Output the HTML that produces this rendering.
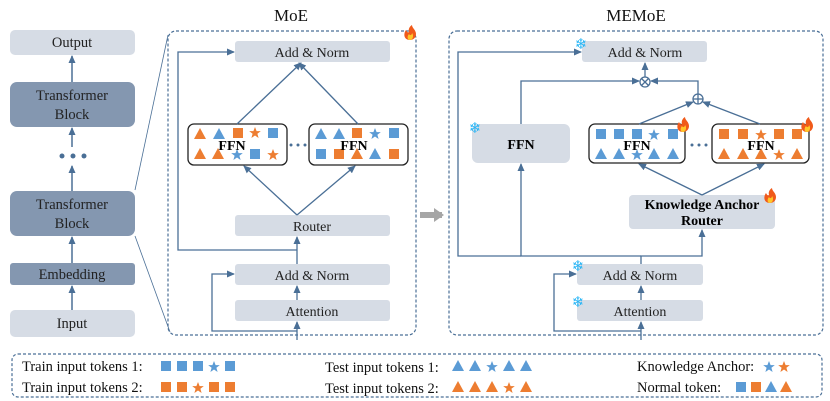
<!DOCTYPE html>
<html><head><meta charset="utf-8"><style>
html,body{margin:0;padding:0;background:#fff;}
svg{display:block;font-family:"Liberation Serif",serif;}
</style></head><body>
<svg width="830" height="401" viewBox="0 0 830 401" xmlns="http://www.w3.org/2000/svg">
<defs>
<marker id="ar" markerWidth="8" markerHeight="8" refX="7" refY="4" orient="auto" markerUnits="userSpaceOnUse"><path d="M0,0.5 L8,4 L0,7.5 Z" fill="#4a6f96"/></marker>
<marker id="ag" markerWidth="14" markerHeight="14" refX="8" refY="7" orient="auto" markerUnits="userSpaceOnUse"><path d="M0,0 L10,7 L0,14 Z" fill="#a6a6a6"/></marker>
<rect id="sb" x="-5" y="-5" width="10" height="10" fill="#5b9bd5"/>
<rect id="so" x="-5" y="-5" width="10" height="10" fill="#ed7d31"/>
<path id="tb" d="M0,-6 L6,5 L-6,5 Z" fill="#5b9bd5"/>
<path id="to" d="M0,-6 L6,5 L-6,5 Z" fill="#ed7d31"/>
<path id="stb" d="M0,-6 L1.6,-1.9 L5.8,-1.9 L2.4,0.8 L3.6,5 L0,2.5 L-3.6,5 L-2.4,0.8 L-5.8,-1.9 L-1.6,-1.9 Z" fill="#5b9bd5"/>
<path id="sto" d="M0,-6 L1.6,-1.9 L5.8,-1.9 L2.4,0.8 L3.6,5 L0,2.5 L-3.6,5 L-2.4,0.8 L-5.8,-1.9 L-1.6,-1.9 Z" fill="#ed7d31"/>
<g id="fire"><path d="M0,7 C-6,7 -7,1 -4,-3 C-3,-1 -2,0 -1,-1 C-2,-4 0,-7 2,-8 C2,-5 6,-3 6,1 C6,5 3,7 0,7 Z" fill="#f05a1a"/><path d="M0,7 C-3,7 -3,3 -1,1 C0,3 2,2 2,0 C4,2 3,7 0,7 Z" fill="#ffc629"/></g>
</defs>

<!-- Left column -->
<g font-size="14.5" text-anchor="middle" fill="#222">
<rect x="10" y="30" width="125" height="25" rx="5" fill="#d6dce5"/><text x="72" y="47">Output</text>
<rect x="10" y="82" width="125" height="45" rx="7" fill="#8497b0"/><text x="72" y="100">Transformer</text><text x="72" y="119">Block</text>
<rect x="10" y="191" width="125" height="45" rx="7" fill="#8497b0"/><text x="72" y="209">Transformer</text><text x="72" y="228">Block</text>
<rect x="10" y="263" width="125" height="22" rx="3" fill="#8497b0"/><text x="72" y="279">Embedding</text>
<rect x="10" y="310" width="125" height="27" rx="5" fill="#d6dce5"/><text x="72" y="328">Input</text>
</g>
<g stroke="#4a6f96" stroke-width="1.5" fill="none" marker-end="url(#ar)">
<line x1="72" y1="82" x2="72" y2="56"/>
<line x1="72" y1="147" x2="72" y2="128"/>
<line x1="72" y1="191" x2="72" y2="166"/>
<line x1="72" y1="263" x2="72" y2="237"/>
<line x1="72" y1="310" x2="72" y2="286"/>
</g>
<circle cx="62" cy="156" r="2.5" fill="#4a6f96"/><circle cx="73" cy="156" r="2.5" fill="#4a6f96"/><circle cx="84" cy="156" r="2.5" fill="#4a6f96"/>
<line x1="135" y1="190" x2="168" y2="35" stroke="#4a6f96" stroke-width="0.8"/>
<line x1="135" y1="236" x2="170" y2="332" stroke="#4a6f96" stroke-width="0.8"/>

<!-- MoE -->
<text x="291" y="21" font-size="17" text-anchor="middle" fill="#111">MoE</text>
<rect x="168" y="31" width="248" height="304" rx="8" fill="none" stroke="#4a6f96" stroke-width="1.2" stroke-dasharray="3,2"/>
<use href="#fire" x="410" y="33"/>
<g font-size="14" text-anchor="middle" fill="#222">
<rect x="235" y="41" width="155" height="21" rx="3" fill="#d6dce5"/><text x="312" y="57">Add &amp; Norm</text>
<rect x="235" y="215" width="155" height="21" rx="3" fill="#d6dce5"/><text x="312" y="231">Router</text>
<rect x="235" y="264" width="155" height="21" rx="3" fill="#d6dce5"/><text x="312" y="280">Add &amp; Norm</text>
<rect x="235" y="300" width="155" height="21" rx="3" fill="#d6dce5"/><text x="312" y="316">Attention</text>
</g>
<rect x="188" y="124" width="99" height="41" rx="6" fill="#fff" stroke="#222" stroke-width="1.3"/>
<rect x="309" y="124" width="99" height="41" rx="6" fill="#fff" stroke="#222" stroke-width="1.3"/>
<use href="#to" x="200" y="134"/><use href="#tb" x="219" y="134"/><use href="#so" x="238" y="133"/><use href="#sto" x="255" y="133"/><use href="#sb" x="273" y="133"/>
<use href="#to" x="200" y="154"/><use href="#to" x="218" y="154"/><use href="#stb" x="237" y="155"/><use href="#sb" x="255" y="154"/><use href="#sto" x="273" y="155"/>
<use href="#tb" x="321" y="134"/><use href="#tb" x="339" y="134"/><use href="#so" x="357" y="133"/><use href="#stb" x="375" y="134"/><use href="#sb" x="394" y="133"/>
<use href="#sb" x="321" y="154"/><use href="#so" x="339" y="154"/><use href="#to" x="357" y="154"/><use href="#tb" x="375" y="154"/><use href="#so" x="394" y="154"/>
<text x="232" y="150" font-size="14" font-weight="bold" text-anchor="middle" fill="#000">FFN</text>
<text x="354" y="150" font-size="14" font-weight="bold" text-anchor="middle" fill="#000">FFN</text>
<circle cx="291" cy="145" r="1.5" fill="#4a6f96"/><circle cx="298" cy="145" r="1.5" fill="#4a6f96"/><circle cx="305" cy="145" r="1.5" fill="#4a6f96"/>
<g stroke="#4a6f96" stroke-width="1.3" fill="none" marker-end="url(#ar)">
<line x1="237" y1="124" x2="301" y2="63"/>
<line x1="358" y1="124" x2="299" y2="63"/>
<line x1="297" y1="215" x2="244" y2="166"/>
<line x1="297" y1="215" x2="355" y2="166"/>
<line x1="297" y1="264" x2="297" y2="237"/>
<line x1="297" y1="300" x2="297" y2="286"/>
<line x1="297" y1="340" x2="297" y2="322"/>
<polyline points="297,250 178,250 178,52 234,52"/>
<polyline points="297,331 212,331 212,274 234,274"/>
</g>

<!-- gray arrow -->
<line x1="420" y1="215" x2="442" y2="215" stroke="#a6a6a6" stroke-width="6" marker-end="url(#ag)"/>

<!-- MEMoE -->
<text x="636" y="21" font-size="17" text-anchor="middle" fill="#111">MEMoE</text>
<rect x="449" y="31" width="374" height="304" rx="8" fill="none" stroke="#4a6f96" stroke-width="1.2" stroke-dasharray="3,2"/>
<g font-size="14" text-anchor="middle" fill="#222">
<rect x="582" y="41" width="125" height="21" rx="3" fill="#d6dce5"/><text x="645" y="57">Add &amp; Norm</text>
<rect x="472" y="124" width="98" height="39" rx="6" fill="#d6dce5"/><text x="521" y="149" font-weight="bold" font-size="14" fill="#000">FFN</text>
<rect x="629" y="195" width="146" height="34" rx="4" fill="#d6dce5"/><text x="702" y="209" font-weight="bold" fill="#000">Knowledge Anchor</text><text x="702" y="225" font-weight="bold" fill="#000">Router</text>
<rect x="577" y="264" width="126" height="21" rx="3" fill="#d6dce5"/><text x="640" y="280">Add &amp; Norm</text>
<rect x="577" y="300" width="126" height="21" rx="3" fill="#d6dce5"/><text x="640" y="316">Attention</text>
</g>
<rect x="589" y="124" width="96" height="39" rx="6" fill="#fff" stroke="#222" stroke-width="1.3"/>
<rect x="712" y="124" width="97" height="39" rx="6" fill="#fff" stroke="#222" stroke-width="1.3"/>
<use href="#sb" x="601" y="134"/><use href="#sb" x="619" y="134"/><use href="#sb" x="637" y="134"/><use href="#stb" x="654" y="135"/><use href="#sb" x="673" y="134"/>
<use href="#tb" x="601" y="154"/><use href="#tb" x="619" y="154"/><use href="#stb" x="637" y="155"/><use href="#tb" x="654" y="154"/><use href="#tb" x="673" y="154"/>
<use href="#so" x="724" y="134"/><use href="#so" x="743" y="134"/><use href="#sto" x="761" y="135"/><use href="#so" x="779" y="134"/><use href="#so" x="797" y="134"/>
<use href="#to" x="724" y="154"/><use href="#to" x="743" y="154"/><use href="#to" x="761" y="154"/><use href="#sto" x="779" y="155"/><use href="#to" x="797" y="154"/>
<text x="637" y="150" font-size="14" font-weight="bold" text-anchor="middle" fill="#000">FFN</text>
<text x="761" y="150" font-size="14" font-weight="bold" text-anchor="middle" fill="#000">FFN</text>
<circle cx="692" cy="145" r="1.5" fill="#4a6f96"/><circle cx="699" cy="145" r="1.5" fill="#4a6f96"/><circle cx="706" cy="145" r="1.5" fill="#4a6f96"/>
<use href="#fire" x="683" y="125"/><use href="#fire" x="807" y="125"/><use href="#fire" x="770" y="196"/>
<g font-size="15" fill="#29b6f6" font-family="'DejaVu Sans',sans-serif" text-anchor="middle">
<text x="581" y="49">❄</text><text x="475" y="133">❄</text><text x="578" y="271">❄</text><text x="578" y="307">❄</text>
</g>
<g stroke="#4a6f96" stroke-width="1.3" fill="none">
<circle cx="645" cy="82" r="5"/><line x1="641.5" y1="78.5" x2="648.5" y2="85.5"/><line x1="648.5" y1="78.5" x2="641.5" y2="85.5"/>
<circle cx="698" cy="99" r="5"/><line x1="693" y1="99" x2="703" y2="99"/><line x1="698" y1="94" x2="698" y2="104"/>
</g>
<g stroke="#4a6f96" stroke-width="1.3" fill="none" marker-end="url(#ar)">
<line x1="645" y1="77" x2="645" y2="63"/>
<polyline points="521,124 521,81 639,81"/>
<polyline points="698,94 698,81 651,81"/>
<line x1="639" y1="124" x2="693" y2="102"/>
<line x1="760" y1="124" x2="703" y2="102"/>
<line x1="702" y1="195" x2="639" y2="164"/>
<line x1="702" y1="195" x2="764" y2="164"/>
<polyline points="641,264 641,256 702,256 702,230"/>
<polyline points="641,256 521,256 521,164"/>
<polyline points="521,256 458,256 458,52 581,52"/>
<line x1="641" y1="300" x2="641" y2="286"/>
<line x1="641" y1="340" x2="641" y2="322"/>
<polyline points="641,331 554,331 554,274 576,274"/>
</g>

<!-- Legend -->
<rect x="12" y="354" width="810" height="43" rx="6" fill="none" stroke="#4a6f96" stroke-width="1.2" stroke-dasharray="3,2"/>
<g font-size="14.5" fill="#111">
<text x="22" y="371">Train input tokens 1:</text>
<text x="22" y="392">Train input tokens 2:</text>
<text x="325" y="372">Test input tokens 1:</text>
<text x="325" y="393">Test input tokens 2:</text>
<text x="637" y="371">Knowledge Anchor:</text>
<text x="637" y="392">Normal token:</text>
</g>
<use href="#sb" x="166" y="366"/><use href="#sb" x="182" y="366"/><use href="#sb" x="198" y="366"/><use href="#stb" x="214" y="367"/><use href="#sb" x="230" y="366"/>
<use href="#so" x="166" y="387"/><use href="#so" x="182" y="387"/><use href="#sto" x="198" y="388"/><use href="#so" x="214" y="387"/><use href="#so" x="230" y="387"/>
<use href="#tb" x="458" y="366"/><use href="#tb" x="475" y="366"/><use href="#stb" x="492" y="367"/><use href="#tb" x="509" y="366"/><use href="#tb" x="526" y="366"/>
<use href="#to" x="458" y="387"/><use href="#to" x="475" y="387"/><use href="#to" x="492" y="387"/><use href="#sto" x="509" y="388"/><use href="#to" x="526" y="387"/>
<use href="#stb" x="769" y="367"/><use href="#sto" x="784" y="367"/>
<use href="#sb" x="741" y="387"/><use href="#so" x="756" y="387"/><use href="#tb" x="771" y="387"/><use href="#to" x="786" y="387"/>
</svg>
</body></html>
